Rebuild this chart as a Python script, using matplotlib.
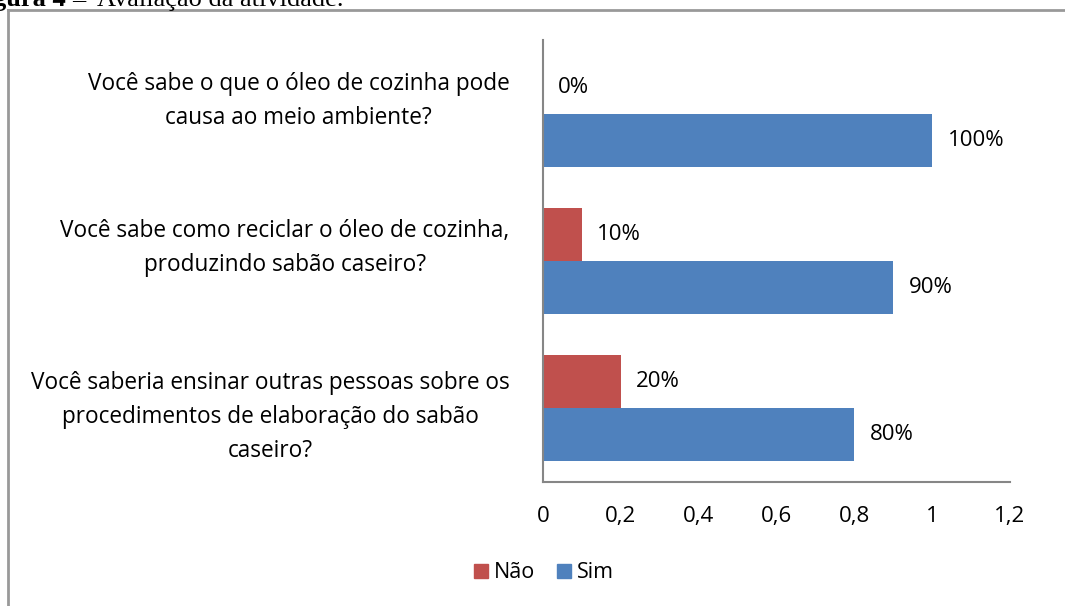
import matplotlib
matplotlib.use("Agg")
import matplotlib.pyplot as plt
from matplotlib.patches import Patch
from matplotlib.lines import Line2D
from matplotlib.transforms import ScaledTranslation
import numpy as np

categories = [
    "Você sabe o que o óleo de cozinha pode\ncausa ao meio ambiente?",
    "Você sabe como reciclar o óleo de cozinha,\nproduzindo sabão caseiro?",
    "Você saberia ensinar outras pessoas sobre os\nprocedimentos de elaboração do sabão\ncaseiro?",
]
nao = [0.0, 0.1, 0.2]
sim = [1.0, 0.9, 0.8]
nao_labels = ["0%", "10%", "20%"]
sim_labels = ["100%", "90%", "80%"]
xticks = [0, 0.2, 0.4, 0.6, 0.8, 1.0, 1.2]
xticklabels = ["0", "0,2", "0,4", "0,6", "0,8", "1", "1,2"]

RED = "#C0504D"
BLUE = "#4F81BD"
AX_GRAY = "#868686"
FONT = ["Open Sans", "DejaVu Sans"]
FS = 16
FS_CAT = 16.3

plt.rcParams["font.family"] = FONT

fig = plt.figure(figsize=(10.65, 6.06), dpi=100)
ax = fig.add_axes([543 / 1065, 1 - 482 / 606, (1010 - 543) / 1065, (482 - 40) / 606])

ypos = np.array([2, 1, 0])
h = 0.36
b1 = ax.barh(ypos + h / 2, nao, height=h, color=RED, label="Não")
b2 = ax.barh(ypos - h / 2, sim, height=h, color=BLUE, label="Sim")

for rect, lab in zip(b1, nao_labels):
    ax.annotate(lab, (rect.get_width(), rect.get_y() + rect.get_height() / 2),
                xytext=(15, 0), textcoords="offset pixels", va="center", ha="left",
                fontsize=FS, color="black")
for rect, lab in zip(b2, sim_labels):
    ax.annotate(lab, (rect.get_width(), rect.get_y() + rect.get_height() / 2),
                xytext=(16, 0), textcoords="offset pixels", va="center", ha="left",
                fontsize=FS, color="black")

ax.set_xlim(0, 1.2)
ax.set_ylim(-0.5, 2.5)
ax.set_xticks(xticks)
ax.set_xticklabels(xticklabels, fontsize=FS)
ax.set_yticks(ypos)
ax.set_yticklabels(categories, fontsize=FS_CAT, ha="right", multialignment="center",
                   linespacing=1.55)
ax.tick_params(axis="x", length=0, pad=17)
ax.tick_params(axis="y", length=0, pad=24)

# vertical placement of the category labels as in the reference (pixels, + = up)
label_shift_px = [21, 21, -1]
for lbl, dy in zip(ax.get_yticklabels(), label_shift_px):
    lbl.set_transform(lbl.get_transform() + ScaledTranslation(0, dy / 100, fig.dpi_scale_trans))

for s in ["top", "right"]:
    ax.spines[s].set_visible(False)
for s in ["left", "bottom"]:
    ax.spines[s].set_color(AX_GRAY)
    ax.spines[s].set_linewidth(1.5)

handles = [Patch(color=RED, label="Não"), Patch(color=BLUE, label="Sim")]
fig.legend(handles=handles, loc="center", bbox_to_anchor=(544 / 1065, 1 - 573 / 606),
           ncol=2, frameon=False, fontsize=15.5, handlelength=0.65, handleheight=0.65,
           handletextpad=0.3, columnspacing=1.0)

# outer frame of the chart
fy = 1 - 10 / 606
fx = 8 / 1065
fig.add_artist(Line2D([fx, fx], [0, fy], transform=fig.transFigure, color="#999999", lw=2))
fig.add_artist(Line2D([fx, 1], [fy, fy], transform=fig.transFigure, color="#999999", lw=2))

# partially cut caption
fig.text(-7 / 1065, 1 - 6 / 606, "gura 4", fontsize=19, fontweight="bold",
         family="Liberation Serif", va="baseline", ha="left")
fig.text(72 / 1065, 1 - 6 / 606, "–", fontsize=19,
         family="Liberation Serif", va="baseline", ha="left")
fig.text(97 / 1065, 1 - 6 / 606, "Avaliação da atividade.", fontsize=19,
         family="Liberation Serif", va="baseline", ha="left")

fig.savefig("out.png", dpi=100)
